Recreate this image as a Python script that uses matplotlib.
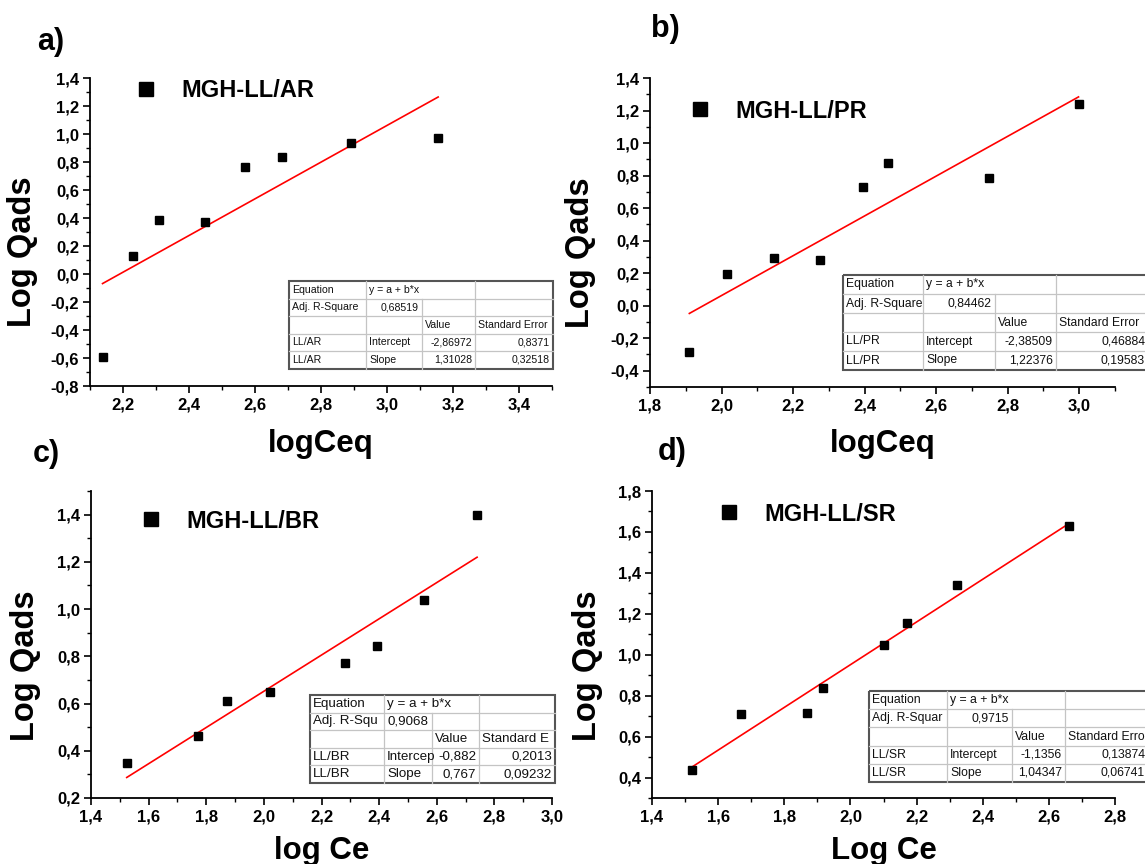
import matplotlib
matplotlib.use("Agg")
import numpy as np
import matplotlib.pyplot as plt
from matplotlib.ticker import MultipleLocator, FuncFormatter
from matplotlib.lines import Line2D
from matplotlib.patches import Rectangle
from matplotlib.transforms import Affine2D

plt.rcParams['font.family'] = ['Liberation Sans', 'DejaVu Sans']
plt.rcParams['font.weight'] = 'bold'

W, H = 1145, 864

# ---- data: log Ce / log Qads for the four adsorbents ----
x_ar = [2.138, 2.231, 2.309, 2.447, 2.571, 2.682, 2.892, 3.155]
y_ar = [-0.59, 0.13, 0.389, 0.375, 0.767, 0.839, 0.939, 0.974]
x_pr = [1.910, 2.016, 2.148, 2.276, 2.395, 2.466, 2.748, 2.998]
y_pr = [-0.282, 0.195, 0.292, 0.280, 0.731, 0.875, 0.784, 1.241]
x_br = [1.524, 1.771, 1.871, 2.022, 2.281, 2.392, 2.557, 2.740]
y_br = [0.349, 0.462, 0.612, 0.650, 0.772, 0.844, 1.039, 1.397]
x_sr = [1.522, 1.669, 1.868, 1.916, 2.101, 2.171, 2.322, 2.662]
y_sr = [0.436, 0.709, 0.714, 0.836, 1.049, 1.156, 1.341, 1.628]

# linear fit results (intercept, slope) as reported in the tables
fit_ar = (-2.86972, 1.31028)
fit_pr = (-2.38509, 1.22376)
fit_br = (-0.882, 0.767)
fit_sr = (-1.1356, 1.04347)

# table strings: adj R2, intercept value / error, slope value / error
tab_ar = ["0,68519", "-2,86972", "0,8371", "1,31028", "0,32518"]
tab_pr = ["0,84462", "-2,38509", "0,46884", "1,22376", "0,19583"]
tab_br = ["0,9068", "-0,882", "0,2013", "0,767", "0,09232"]
tab_sr = ["0,9715", "-1,1356", "0,13874", "1,04347", "0,06741"]

fig = plt.figure(figsize=(W / 100, H / 100), dpi=100)
px = Affine2D().scale(1 / W, -1 / H).translate(0, 1) + fig.transFigure


def comma(v, pos):
    s = f"{v:.1f}".replace('.', ',')
    return "0,0" if s == "-0,0" else s


def panel(rect, x, y, fit, name, xlim, ylim, xlabel, xlab_y, ylab_xy, leg_xy):
    l, r, t, b = rect
    ax = fig.add_axes([l / W, 1 - b / H, (r - l) / W, (b - t) / H])
    ax.plot(x, y, 's', color='black', ms=5.6, label=name, zorder=3)
    xs = np.array([min(x), max(x)])
    ax.plot(xs, fit[0] + fit[1] * xs, color='red', lw=1.2, zorder=2)
    ax.set_xlim(*xlim)
    ax.set_ylim(*ylim)
    for s in ['top', 'right']:
        ax.spines[s].set_visible(False)
    for s in ['left', 'bottom']:
        ax.spines[s].set_linewidth(1.3)
    ax.xaxis.set_major_locator(MultipleLocator(0.2))
    ax.xaxis.set_minor_locator(MultipleLocator(0.1))
    ax.yaxis.set_major_locator(MultipleLocator(0.2))
    ax.yaxis.set_minor_locator(MultipleLocator(0.1))
    ax.xaxis.set_major_formatter(FuncFormatter(comma))
    ax.yaxis.set_major_formatter(FuncFormatter(comma))
    ax.tick_params(which='major', length=5, width=1.2, labelsize=12, pad=3)
    ax.tick_params(which='minor', length=3, width=1.0)
    ax.set_xlabel(xlabel, fontsize=22.5, fontweight='bold')
    ax.xaxis.set_label_coords(0.5, xlab_y)
    ax.set_ylabel("Log Qads", fontsize=23.5, fontweight='bold')
    ax.yaxis.set_label_coords(*ylab_xy)
    ax.legend(loc='center left', bbox_to_anchor=leg_xy, frameon=False,
              fontsize=17, markerscale=1.7, handlelength=1.0,
              handletextpad=1.0, borderpad=0, borderaxespad=0,
              prop={'weight': 'bold', 'size': 17})
    return ax


def fit_table(cols, rows, sample, vals, fs):
    # white cell block, light inner grid, dark outer frame
    fig.add_artist(Rectangle((cols[0], rows[0]), cols[-1] - cols[0],
                             rows[-1] - rows[0], transform=px,
                             facecolor='white', edgecolor='none'))
    grid = dict(transform=px, color='#c4c4c4', lw=0.9)
    for yy in rows[1:-1]:
        fig.add_artist(Line2D([cols[0], cols[-1]], [yy, yy], **grid))
    fig.add_artist(Line2D([cols[1], cols[1]], [rows[0], rows[-1]], **grid))
    fig.add_artist(Line2D([cols[2], cols[2]], [rows[1], rows[-1]], **grid))
    fig.add_artist(Line2D([cols[3], cols[3]], [rows[0], rows[-1]], **grid))
    fig.add_artist(Rectangle((cols[0], rows[0]), cols[-1] - cols[0],
                             rows[-1] - rows[0], transform=px,
                             facecolor='none', edgecolor='#555555', lw=1.5))
    r2, a, a_err, b, b_err = vals
    cells = [
        [("Equation", 'l'), ("y = a + b*x", 'l'), None, None],
        [(sample[0], 'l'), (r2, 'r'), None, None],
        [None, None, ("Value", 'l'), (sample[2], 'l')],
        [(sample[3], 'l'), (sample[1], 'l'), (a, 'r'), (a_err, 'r')],
        [(sample[3], 'l'), ("Slope", 'l'), (b, 'r'), (b_err, 'r')],
    ]
    for i, row in enumerate(cells):
        yc = (rows[i] + rows[i + 1]) / 2
        for j, c in enumerate(row):
            if c is None:
                continue
            s, al = c
            if al == 'l':
                xx, ha = cols[j] + 3, 'left'
            else:
                xx, ha = cols[j + 1] - 3, 'right'
            fig.text(xx, yc, s, transform=px, ha=ha, va='center',
                     fontsize=fs, fontweight='normal', color='#111111')


panel((90, 552, 78, 386), x_ar, y_ar, fit_ar, "MGH-LL/AR",
      (2.1, 3.5), (-0.8, 1.4), "logCeq", -0.140, (-0.113, 0.435),
      (0.095, 0.958))
panel((650, 1115, 78, 387), x_pr, y_pr, fit_pr, "MGH-LL/PR",
      (1.8, 3.1), (-0.5, 1.4), "logCeq", -0.136, (-0.116, 0.435),
      (0.082, 0.893))
panel((91, 552, 491, 798), x_br, y_br, fit_br, "MGH-LL/BR",
      (1.4, 3.0), (0.2, 1.5), "log Ce", -0.124, (-0.108, 0.43),
      (0.104, 0.902))
panel((652, 1115, 491, 798), x_sr, y_sr, fit_sr, "MGH-LL/SR",
      (1.4, 2.8), (0.3, 1.8), "Log Ce", -0.124, (-0.106, 0.43),
      (0.140, 0.925))

fit_table([289, 366, 422, 475, 553], np.linspace(281, 368.5, 6),
          ["Adj. R-Square", "Intercept", "Standard Error", "LL/AR"], tab_ar, 7.6)
fit_table([843, 923, 995, 1056, 1148], np.linspace(275, 370, 6),
          ["Adj. R-Square", "Intercept", "Standard Error", "LL/PR"], tab_pr, 8.7)
fit_table([310, 384, 432, 479, 555], np.linspace(695, 783, 6),
          ["Adj. R-Squ", "Intercep", "Standard E", "LL/BR"], tab_br, 9.6)
fit_table([869, 947, 1012, 1065, 1148], np.linspace(691, 782, 6),
          ["Adj. R-Squar", "Intercept", "Standard Erro", "LL/SR"], tab_sr, 8.8)

# panel letters
for s, xx, yy in [("a)", 37, 50), ("b)", 651, 37), ("c)", 33, 462), ("d)", 658, 460)]:
    fig.text(xx, yy, s, transform=px, fontsize=22, fontweight='bold',
             ha='left', va='baseline')

fig.savefig("out.png", dpi=100)
